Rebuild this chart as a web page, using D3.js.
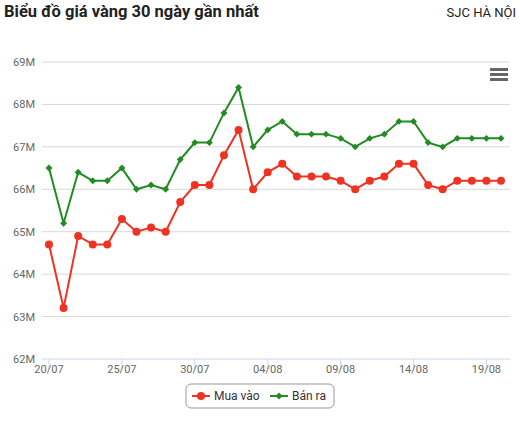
<!DOCTYPE html>
<html><head><meta charset="utf-8">
<script src="https://cdn.jsdelivr.net/npm/d3@7"></script>
<style>body{margin:0;background:#fff;font-family:Roboto,sans-serif}</style>
</head><body><svg id="c" width="520" height="423"></svg>
<script>
const dates=["20/07","21/07","22/07","23/07","24/07","25/07","26/07","27/07","28/07","29/07","30/07","31/07","01/08","02/08","03/08","04/08","05/08","06/08","07/08","08/08","09/08","10/08","11/08","12/08","13/08","14/08","15/08","16/08","17/08","18/08","19/08","20/08"];
const buy=[64.7,63.2,64.9,64.7,64.7,65.3,65.0,65.1,65.0,65.7,66.1,66.1,66.8,67.4,66.0,66.4,66.6,66.3,66.3,66.3,66.2,66.0,66.2,66.3,66.6,66.6,66.1,66.0,66.2,66.2,66.2,66.2];
const sell=[66.5,65.2,66.4,66.2,66.2,66.5,66.0,66.1,66.0,66.7,67.1,67.1,67.8,68.4,67.0,67.4,67.6,67.3,67.3,67.3,67.2,67.0,67.2,67.3,67.6,67.6,67.1,67.0,67.2,67.2,67.2,67.2];
const yTicks=[62,63,64,65,66,67,68,69];
const tickDates=["20/07","25/07","30/07","04/08","09/08","14/08","19/08"];

const svg=d3.select("#c");
const x=d3.scalePoint().domain(dates).range([49,501]);
const y=d3.scaleLinear().domain([62,69]).range([359,62]);
const L=42,R=510;
svg.append("text").attr("x",4).attr("y",17).attr("font-size",16.5).attr("font-weight","bold").attr("fill","#222").text("Biểu đồ giá vàng 30 ngày gần nhất");
svg.append("text").attr("x",516).attr("y",17).attr("text-anchor","end").attr("font-size",13).attr("fill","#222").text("SJC HÀ NỘI");
yTicks.forEach(t=>{
  svg.append("line").attr("x1",L).attr("x2",R).attr("y1",y(t)).attr("y2",y(t)).attr("stroke",t===62?"#ccd6eb":"#d8d8d8");
  svg.append("text").attr("x",35).attr("y",y(t)+4).attr("text-anchor","end").attr("font-size",11).attr("fill","#666").text(t+"M");
});
tickDates.forEach(d=>{
  svg.append("line").attr("x1",x(d)).attr("x2",x(d)).attr("y1",359).attr("y2",369).attr("stroke","#ccd6eb");
  svg.append("text").attr("x",x(d)).attr("y",373).attr("text-anchor","middle").attr("font-size",11).attr("fill","#666").text(d);
});
[0,5,10].forEach(o=>svg.append("rect").attr("x",490).attr("y",68+o).attr("width",18).attr("height",3).attr("fill","#666"));
const line=d3.line().x((d,i)=>x(dates[i])).y(d=>y(d));
svg.append("path").datum(sell).attr("d",line).attr("fill","none").attr("stroke","#228b22").attr("stroke-width",2);
svg.append("path").datum(buy).attr("d",line).attr("fill","none").attr("stroke","#ee3322").attr("stroke-width",2);
const dia=d3.symbol().type(d3.symbolSquare).size(24);
sell.forEach((v,i)=>svg.append("path").attr("d",dia).attr("transform",`translate(${x(dates[i])},${y(v)}) rotate(45)`).attr("fill","#228b22"));
buy.forEach((v,i)=>svg.append("circle").attr("cx",x(dates[i])).attr("cy",y(v)).attr("r",4).attr("fill","#ee3322"));
const g=svg.append("g");
g.append("rect").attr("x",186).attr("y",384).attr("width",148).attr("height",24).attr("rx",5).attr("fill","#fff").attr("stroke","#999");
g.append("line").attr("x1",192).attr("x2",210).attr("y1",396).attr("y2",396).attr("stroke","#ee3322").attr("stroke-width",2);
g.append("circle").attr("cx",201).attr("cy",396).attr("r",4).attr("fill","#ee3322");
g.append("text").attr("x",214).attr("y",400).attr("font-size",12).attr("fill","#333").text("Mua vào");
g.append("line").attr("x1",270).attr("x2",288).attr("y1",396).attr("y2",396).attr("stroke","#228b22").attr("stroke-width",2);
g.append("path").attr("d",dia).attr("transform","translate(279,396) rotate(45)").attr("fill","#228b22");
g.append("text").attr("x",292).attr("y",400).attr("font-size",12).attr("fill","#333").text("Bán ra");
</script></body></html>
